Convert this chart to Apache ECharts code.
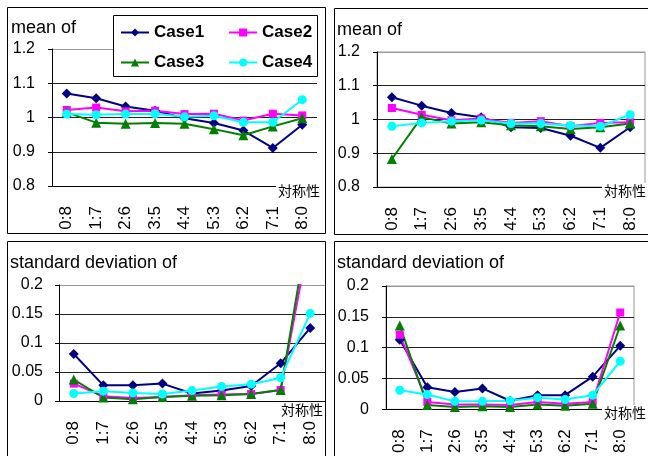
<!DOCTYPE html>
<html>
<head>
	<meta charset="utf-8">
	<title>mean / standard deviation</title>
	<style type="text/css">
		html, body { margin: 0; padding: 0; background: #fff; }
		#chart { width: 648px; height: 456px; }
	</style>
</head>
<body>
	<div id="chart"></div>
	<script src="https://cdn.jsdelivr.net/npm/echarts@6/dist/echarts.min.js"></script>
	<script type="text/javascript">
	// categories on every x axis
	const CATEGORIES = ['0:8', '1:7', '2:6', '3:5', '4:4', '5:3', '6:2', '7:1', '8:0'];
	const CASE_NAMES = ['Case1', 'Case2', 'Case3', 'Case4'];

	// top-left: mean
	const MEAN_L_CASE1 = [1.070, 1.056, 1.032, 1.020, 0.998, 0.984, 0.962, 0.911, 0.979];
	const MEAN_L_CASE2 = [1.022, 1.029, 1.018, 1.020, 1.010, 1.011, 0.991, 1.011, 1.006];
	const MEAN_L_CASE3 = [1.015, 0.985, 0.982, 0.984, 0.982, 0.966, 0.948, 0.974, 0.998];
	const MEAN_L_CASE4 = [1.010, 1.008, 1.010, 1.011, 1.002, 1.005, 0.986, 0.986, 1.052];

	// top-right: mean
	const MEAN_R_CASE1 = [1.066, 1.041, 1.019, 1.007, 0.977, 0.975, 0.952, 0.916, 0.977];
	const MEAN_R_CASE2 = [1.034, 1.014, 0.998, 1.003, 0.990, 0.995, 0.980, 0.990, 0.992];
	const MEAN_R_CASE3 = [0.883, 1.007, 0.988, 0.992, 0.983, 0.980, 0.972, 0.977, 0.988];
	const MEAN_R_CASE4 = [0.980, 0.990, 0.995, 0.998, 0.988, 0.988, 0.982, 0.980, 1.014];

	// bottom-left: standard deviation
	const SD_L_CASE1 = [0.081, 0.027, 0.027, 0.030, 0.013, 0.018, 0.026, 0.065, 0.126];
	const SD_L_CASE2 = [0.030, 0.008, 0.005, 0.007, 0.010, 0.011, 0.012, 0.019, 0.29];
	const SD_L_CASE3 = [0.037, 0.006, 0.003, 0.007, 0.009, 0.010, 0.012, 0.019, 0.32];
	const SD_L_CASE4 = [0.013, 0.017, 0.014, 0.012, 0.018, 0.025, 0.029, 0.040, 0.151];

	// bottom-right: standard deviation
	const SD_R_CASE1 = [0.113, 0.036, 0.028, 0.034, 0.014, 0.023, 0.023, 0.053, 0.103];
	const SD_R_CASE2 = [0.121, 0.012, 0.008, 0.008, 0.007, 0.012, 0.009, 0.012, 0.157];
	const SD_R_CASE3 = [0.136, 0.007, 0.004, 0.005, 0.004, 0.008, 0.006, 0.009, 0.136];
	const SD_R_CASE4 = [0.031, 0.024, 0.013, 0.013, 0.014, 0.019, 0.016, 0.023, 0.078];

	const TXT = {
		MEAN: 'mean of',
		SD: 'standard deviation of',
		X_NAME: '対称性',
	};

	const FONT = '"Liberation Sans", Arial, sans-serif';
	const CJK_FONT = '"Noto Sans CJK JP", sans-serif';

	const COLORS = ['#000080', '#ff00ff', '#008000', '#00ffff'];
	const SYMBOLS = ['diamond', 'rect', 'triangle', 'circle'];
	const SYMBOL_SIZES = [10, 8, 10, 9];

	const PANELS = [
		{ grid: { left: 52, top: 49, width: 265, height: 137 }, min: 0.8, max: 1.2, interval: 0.1, margin: 17,
		  data: [MEAN_L_CASE1, MEAN_L_CASE2, MEAN_L_CASE3, MEAN_L_CASE4], border: false },
		{ grid: { left: 377, top: 52, width: 268, height: 135 }, min: 0.8, max: 1.2, interval: 0.1, margin: 17,
		  data: [MEAN_R_CASE1, MEAN_R_CASE2, MEAN_R_CASE3, MEAN_R_CASE4], border: true },
		{ grid: { left: 59, top: 285, width: 266, height: 116 }, min: 0, max: 0.2, interval: 0.05, margin: 16,
		  data: [SD_L_CASE1, SD_L_CASE2, SD_L_CASE3, SD_L_CASE4], border: false },
		{ grid: { left: 386, top: 286, width: 248, height: 125 }, min: 0, max: 0.2, interval: 0.05, margin: 17,
		  data: [SD_R_CASE1, SD_R_CASE2, SD_R_CASE3, SD_R_CASE4], border: true },
	];

	function buildOption() {
		let grids = [], xAxes = [], yAxes = [], series = [];

		PANELS.forEach((p, i) => {
			grids.push(Object.assign({
				show: p.border,
				borderColor: '#999',
				borderWidth: 1,
			}, p.grid));

			xAxes.push({
				type: 'category',
				gridIndex: i,
				data: CATEGORIES,
				boundaryGap: true,
				axisLine: { lineStyle: { color: '#000', width: 1 } },
				axisTick: { inside: true, length: 6, lineStyle: { color: '#000' } },
				axisLabel: { rotate: 90, margin: 20, fontSize: 17, color: '#000', fontFamily: FONT },
				splitLine: { show: false },
			});

			yAxes.push({
				type: 'value',
				gridIndex: i,
				min: p.min,
				max: p.max,
				interval: p.interval,
				axisLine: { show: true, lineStyle: { color: '#000', width: 1 } },
				axisTick: { show: true, length: 4, lineStyle: { color: '#000' } },
				axisLabel: { margin: p.margin, fontSize: 16, color: '#000', fontFamily: FONT },
				splitLine: { show: true, lineStyle: { color: ['#222', '#222', '#222', '#222', '#999'], width: 1 } },
			});

			p.data.forEach((values, c) => {
				series.push({
					name: CASE_NAMES[c],
					type: 'line',
					xAxisIndex: i,
					yAxisIndex: i,
					data: values,
					symbol: SYMBOLS[c],
					symbolSize: SYMBOL_SIZES[c],
					showAllSymbol: true,
					clip: true,
					color: COLORS[c],
					lineStyle: { width: 2, color: COLORS[c] },
					itemStyle: { color: COLORS[c] },
					emphasis: { disabled: true },
					animation: false,
				});
			});
		});

		const legendCommon = {
			left: 120,
			itemWidth: 28,
			itemHeight: 10,
			itemGap: 24,
			padding: 0,
			selectedMode: false,
			textStyle: { fontSize: 17, fontWeight: 'bold', color: '#000', fontFamily: FONT },
		};

		function panelRect(x, y, w, h) {
			return { type: 'rect', z: 0, shape: { x: x, y: y, width: w, height: h },
				style: { fill: 'none', stroke: '#000', lineWidth: 1 } };
		}
		function title(x, y, text) {
			return { type: 'text', z: 5, style: { x: x, y: y, text: text, fill: '#000',
				font: '18px ' + FONT, verticalAlign: 'middle' } };
		}
		function xName(x, y) {
			return { type: 'text', z: 5, style: { x: x, y: y, text: TXT.X_NAME, fill: '#000',
				font: '14px ' + CJK_FONT, align: 'right', verticalAlign: 'middle',
				backgroundColor: '#fff', padding: [1, 2] } };
		}

		return {
			animation: false,
			grid: grids,
			xAxis: xAxes,
			yAxis: yAxes,
			series: series,
			legend: [
				Object.assign({ top: 24, data: ['Case1', 'Case2'] }, legendCommon),
				Object.assign({ top: 54, data: ['Case3', 'Case4'] }, legendCommon),
			],
			graphic: [
				panelRect(7.5, 7.5, 318, 226),
				panelRect(334.5, 8.5, 320, 226),
				panelRect(7.5, 241.5, 318, 230),
				panelRect(334.5, 241.5, 320, 230),
				title(11, 28, TXT.MEAN),
				title(337, 30, TXT.MEAN),
				title(10, 263, TXT.SD),
				title(337, 263, TXT.SD),
				xName(322, 191),
				xName(648, 191),
				xName(325, 410),
				xName(648, 413),
				{ type: 'rect', z: 3, shape: { x: 113.5, y: 15.5, width: 204, height: 61 },
				  style: { fill: '#fff', stroke: '#000', lineWidth: 1 } },
			],
		};
	}

	var myChart = echarts.init(document.getElementById('chart'));
	myChart.setOption(buildOption());
	</script>
</body>
</html>
